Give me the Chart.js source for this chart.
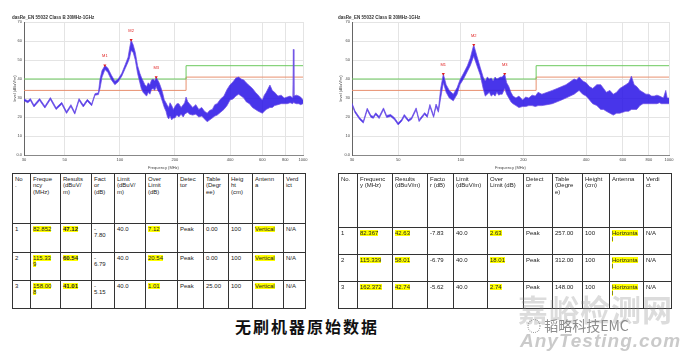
<!DOCTYPE html>
<html><head><meta charset="utf-8">
<script src="https://cdn.jsdelivr.net/npm/chart.js@4/dist/chart.umd.min.js"></script>
<style>
html,body{margin:0;padding:0;background:#fff;}
body{width:680px;height:352px;overflow:hidden;position:relative;font-family:"Liberation Sans",Arial,sans-serif;}
.cw{position:absolute;top:0;}
table{position:absolute;border-collapse:collapse;table-layout:fixed;font-size:6px;line-height:6.4px;color:#222;}
td{border:1px solid #333;vertical-align:top;padding:2px 1px 0 2px;overflow:hidden;white-space:pre;}
.h{background:#ffff00;}
#cap{position:absolute;left:235px;top:316px;font-family:"Noto Sans CJK SC";font-weight:700;font-size:16px;line-height:20px;letter-spacing:2px;color:#111;}
.wm{position:absolute;white-space:nowrap;}
</style></head>
<body>
<div class="cw" style="left:0;"><canvas id="c1" width="340" height="170"></canvas></div>
<div class="cw" style="left:330px;"><canvas id="c2" width="350" height="170"></canvas></div>
<table id="t1" style="left:12px;top:173px;"></table>
<table id="t2" style="left:338px;top:173px;"></table>
<div id="cap">无刷机器原始数据</div>
<div class="wm" style="left:518px;top:286px;font-family:'Noto Sans CJK SC';font-weight:700;font-size:30px;color:rgba(140,140,140,0.3);letter-spacing:1px;">嘉峪检测网</div>
<div class="wm" style="left:527px;top:315px;font-family:'Noto Sans CJK SC';font-size:14px;color:#8c8c8c;">◌ 韬略科技EMC</div>
<div class="wm" style="left:520px;top:330px;font-family:'Liberation Sans';font-weight:700;font-style:italic;font-size:19px;color:rgba(150,150,150,0.5);letter-spacing:1px;">AnyTesting.com</div>
<script>
// ---------- chart data ----------
const xTickValues = [30, 50, 100, 200, 400, 600, 800, 1000];
const chartTitle = "dasRe_EN 55032 Class B 30MHz-1GHz";
const limitFreq = [30, 230, 230, 1000];
const limitGreen = [40, 40, 47, 47];
const limitOrange = [34, 34, 41, 41];
const markerNames = ["M1", "M2", "M3"];

// left (vertical) scan: frequency, upper and lower edge of the trace band
const freqL = [30,31.5,32.5,34,36.5,39,41.8,44.9,48.2,51.2,54.1,56.8,59.9,63.2,66.5,70.2,73.2,76.4,78,80,83,86,90,94,98,102.5,107,111,113,115.3,118.3,121.5,125,128.7,131,134,137,140,143,146,149,152,155,158,161,164,167,171,175,178.7,182,185,188,192,196,200,205,210,216,222,226,230,235,240,250,260,270,280,290,300,310,320,330,340,355,370,385,400,415,430,445,460,475,490,510,530,550,570,585,600,615,630,645,660,680,700,730,760,790,820,850,880,886,892,920,950,970,1000];
const hiL = [29.5,28.5,29.7,26.3,29.7,25.7,30.2,24.9,27.7,22.9,26.5,22.5,29.7,26.3,29.3,26.9,32.3,32.7,40,44.5,47.1,45.8,42,38.8,40,43,47.5,51.5,56,60.5,58,54,47,43,41,39,37,36,38,37,39.5,40,39,41,39.5,38,36,33,29,27.5,26,25,27.5,26,24,25.5,27,27,25,26.5,27.5,30.5,28,27,25,26.5,24,25,23,22,23.5,24,26.5,27,29.5,31,34.5,37,38.5,40.5,41,40,39.5,38,36.5,35,33,31.5,30,29,31.5,33,35,36.8,34,33,31,31.5,30,30.5,31,30,55.6,31,31.5,31,30.5,29];
const loL = [28.5,27.5,28.7,25.3,28.7,24.7,29.2,23.9,26.7,21.9,25.5,21.5,28.7,25.3,28.3,25.9,31.5,31.8,35,41,45,43.5,39.5,37,38.5,41.5,45.5,49,51,55,54,50,43,38,35,33,32,31,33,32,34.5,35,34,36,34,33,31,28,25,23,20,19,20.5,18.5,19.5,19.5,21,20,21.5,20,21.5,22,22.5,21.5,21,21.5,20,20.5,19,17.5,18.5,19.5,20.5,21,22.5,24,26,29,29.5,31,32,31,30,28,27,25,24,23,22.5,22,23,24,24.5,25,25,26,26.5,27,27,27,27.5,27,28,27.5,27,27,26.5,27];
const markFreqL = [82.852, 115.339, 158.008];
const markLevelL = [47.12, 60.54, 41.01];

// right (horizontal) scan
const freqR = [30,31,32.7,34,35.5,37,38,39,40.5,42.5,44,46,48,50,52,53.5,56,58,61,63,67,69,71,74,76,78,80,82.4,85,88,92,96,99,103,107.5,111,115.3,119.5,124,128,131,134,137,140,143,146,149,152,155,158,162.4,166,170,174,178,184,190,198,205,212,220,228,235,245,260,275,290,305,320,335,350,360,370,385,400,415,430,450,470,485,500,520,540,560,580,600,620,640,660,680,700,725,750,775,800,825,850,875,900,920,940,965,980,1000];
const hiR = [27.3,23.3,19.6,17.8,24.6,20.8,20.3,22.2,20.2,24.8,20.8,21.3,19.6,16.8,18.8,21.3,18.6,19.8,24.8,18.6,22.3,20.8,26.6,20.8,26.8,24,35,42.6,37,34,32,35.5,39.5,43,47,51,58,52,46,41,39,41,40,40.5,39,41,40,40.5,41,41,42.7,38,36,33,31,30,31,29,30.5,30,31.5,31,33,32,33,34,35,36,37,38.5,40,39.5,41,39,38,36,35,37,37,35,33,34,32,33,35,36,37,38,41.5,37,36,34,33,32,32,31,31,31.5,31,30.5,30,34,30,30];
const loR = [26.3,22.3,18.6,16.8,23.6,19.8,19.3,21.2,19.2,23.8,19.8,20.3,18.6,15.8,17.8,20.3,17.6,18.8,23.8,17.6,21.3,19.8,25.5,19.8,25.5,22.5,30,38,33,30,28.5,32,37,40,44,47,52,47,42,35,31,32,33,31,32,31,33,31.5,32,32,35,32,30,28,27,26,25,25.5,25.5,26,26,25.5,26,26,26.5,27,28,29,30,31,32,33,34,32,31,29,27,26,24,24,23,22,21,22,22,22.5,23,23,24,24,24,26,27,27,27,27,27,27,27.5,27,27,27,27,27];
const markFreqR = [82.367, 115.339, 162.372];
const markLevelR = [42.63, 58.01, 42.74];

// ---------- table data ----------
const headL = ["No\n.","Freque\nncy\n(MHz)","Results\n(dBuV/\nm)","Fact\nor\n(dB)","Limit\n(dBuV/\nm)","Over\nLimit\n(dB)","Detec\ntor","Table\n(Degr\nee)","Heig\nht\n(cm)","Antenn\na","Verd\nict"];
const rowsL = [
 ["1","82.852","47.12","-\n7.80","40.0","7.12","Peak","0.00","100","Vertical","N/A"],
 ["2","115.33\n9","60.54","-\n6.79","40.0","20.54","Peak","0.00","100","Vertical","N/A"],
 ["3","158.00\n8","41.01","-\n5.15","40.0","1.01","Peak","25.00","100","Vertical","N/A"]];
const headR = ["No.","Frequenc\ny (MHz)","Results\n(dBuV/m)","Facto\nr (dB)","Limit\n(dBuV/m)","Over\nLimit (dB)","Detect\nor","Table\n(Degre\ne)","Height\n(cm)","Antenna","Verdi\nct"];
const rowsR = [
 ["1","82.367","42.63","-7.83","40.0","2.63","Peak","257.00","100","Horizonta\nl","N/A"],
 ["2","115.339","58.01","-6.79","40.0","18.01","Peak","312.00","100","Horizonta\nl","N/A"],
 ["3","162.372","42.74","-5.62","40.0","2.74","Peak","148.00","100","Horizonta\nl","N/A"]];

// ---------- tables ----------
function buildTable(id, widths, heights, hdr, rows, hl, bold){
  const t = document.getElementById(id);
  let h = '<colgroup>' + widths.map(w => `<col style="width:${w}px">`).join('') + '</colgroup>';
  h += `<tr style="height:${heights[0]}px">` + hdr.map(s => `<td>${s}</td>`).join('') + '</tr>';
  rows.forEach((r, i) => {
    h += `<tr style="height:${heights[i+1]}px">` + r.map((s, j) => {
      let c = s;
      if (hl.includes(j)) c = `<span class="h">${c}</span>`;
      if (bold.includes(j)) c = `<b>${c}</b>`;
      return `<td>${c}</td>`;
    }).join('') + '</tr>';
  });
  t.style.width = widths.reduce((a, b) => a + b, 0) + 'px';
  t.innerHTML = h;
}
buildTable('t1', [18,30,31,23,31,32,26,25,24,31,22], [50,29,28,28], headL, rowsL, [1,2,5,9], [2]);
buildTable('t2', [19,35,35,26,34,36,29,30,27,34,28], [54,27,27,27], headR, rowsR, [1,2,5,9], []);

// ---------- charts ----------
const markerLabels = {
  id: 'markerLabels',
  afterDatasetsDraw(chart) {
    const ds = chart.data.datasets.find(d => d.isMarker);
    const ctx = chart.ctx;
    ctx.save();
    ctx.fillStyle = '#e02020';
    ctx.font = '4px "Liberation Sans"';
    ctx.textAlign = 'center';
    ctx.textBaseline = 'middle';
    ds.data.forEach((p, i) => {
      const x = chart.scales.x.getPixelForValue(p.x);
      const y = chart.scales.y.getPixelForValue(p.y + 4.8);
      ctx.fillText(markerNames[i], x, y);
    });
    ctx.restore();
  }
};

function pts(xs, ys) { return xs.map((x, i) => ({x: x, y: ys[i]})); }

function makeChart(id, freq, hi, lo, mf, ml, padL, padR, yW) {
  return new Chart(document.getElementById(id), {
    type: 'line',
    data: {
      datasets: [
        {data: pts(mf, ml), isMarker: true, showLine: false, pointStyle: 'triangle', rotation: 180,
         pointRadius: 1.8, pointBackgroundColor: '#e02020', pointBorderColor: '#e02020', borderWidth: 0, order: 0},
        {data: pts(limitFreq, limitGreen), borderColor: '#6cc95e', borderWidth: 1, pointRadius: 0, fill: false, order: 3},
        {data: pts(limitFreq, limitOrange), borderColor: '#e8906f', borderWidth: 1, pointRadius: 0, fill: false, order: 3},
        {data: pts(freq, hi), borderColor: 'rgba(110,80,230,0.9)', borderWidth: 0.8, pointRadius: 0, fill: false, order: 1},
        {data: pts(freq, lo), borderColor: 'rgba(110,80,230,0.9)', borderWidth: 0.8, pointRadius: 0,
         fill: '-1', backgroundColor: 'rgba(40,18,230,0.85)', order: 1}
      ]
    },
    options: {
      responsive: false, animation: false,
      layout: {padding: {left: padL, right: padR, top: 0, bottom: 0}},
      plugins: {
        legend: {display: false}, tooltip: {enabled: false},
        title: {display: true, text: chartTitle, align: 'start', color: '#333',
                font: {size: 4.5, family: 'Liberation Sans'}, padding: {top: 15, bottom: 1.6}}
      },
      scales: {
        x: {type: 'logarithmic', min: 30, max: 1000,
            afterBuildTicks: s => { s.ticks = xTickValues.map(v => ({value: v})); },
            afterFit: s => { s.height = 15; },
            ticks: {callback: v => String(v), font: {size: 4, family: 'Liberation Sans'}, color: '#444', padding: 2, maxRotation: 0, autoSkip: false},
            grid: {color: '#e4e4e4', lineWidth: 1, drawTicks: false},
            border: {color: '#888'},
            title: {display: true, text: 'Frequency (MHz)', font: {size: 4, family: 'Liberation Sans'}, color: '#444', padding: 0}},
        y: {min: 0, max: 70,
            afterFit: s => { s.width = yW; },
            ticks: {stepSize: 10, callback: v => v === 0 ? '0.0' : String(v), font: {size: 4, family: 'Liberation Sans'}, color: '#444', padding: 2},
            grid: {color: '#e4e4e4', lineWidth: 1, drawTicks: false},
            border: {color: '#666'},
            title: {display: true, text: 'level (dBuV/m)', font: {size: 4, family: 'Liberation Sans'}, color: '#444', padding: 0}}
      }
    },
    plugins: [markerLabels]
  });
}
makeChart('c1', freqL, hiL, loL, markFreqL, markLevelL, 12, 37, 12);
makeChart('c2', freqR, hiR, loR, markFreqR, markLevelR, 8, 11, 14);
</script>
</body></html>
